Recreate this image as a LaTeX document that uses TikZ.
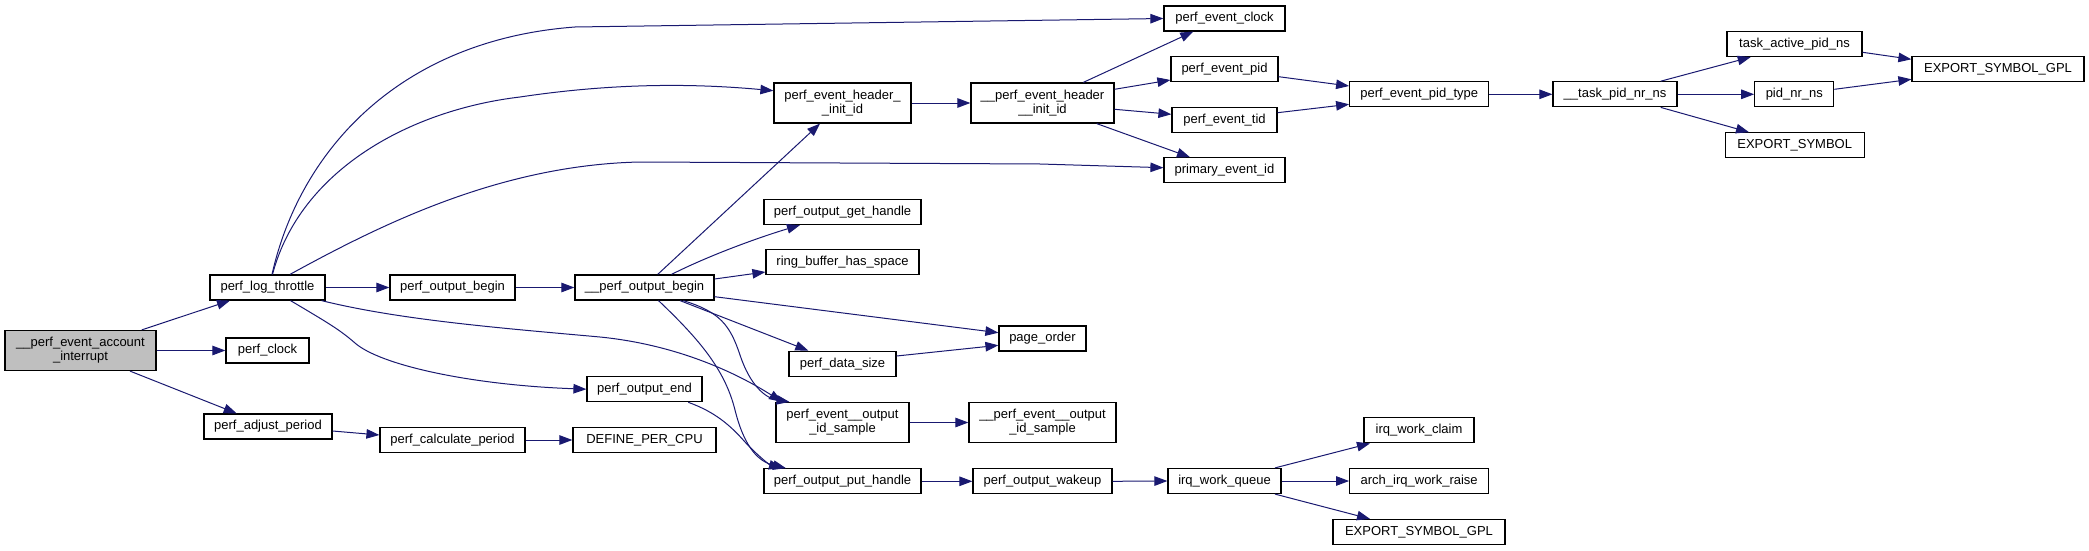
\documentclass[tikz,border=0pt]{standalone}
\usepackage{fontspec}
\setmainfont{Liberation Sans}
\usetikzlibrary{arrows.meta}
\definecolor{edgeblue}{HTML}{191970}
\definecolor{rootgrey}{HTML}{BFBFBF}
\begin{document}
\begin{tikzpicture}[x=1pt,y=-1pt,
 fn/.style={draw=black, line width=1.2pt, fill=white, inner sep=0pt, minimum height=25pt, font=\fontsize{13}{14}\selectfont, align=center},
 fn2/.style={fn, minimum height=40pt},
 root/.style={fn2, fill=rootgrey},
 call/.style={draw=edgeblue, line width=1pt, -{Triangle[length=13pt,width=9.5pt]}}
]
\useasboundingbox (0,0) rectangle (2089,551);
% column 1
\node[root, minimum width=151pt] (acc) at (80.5,350.5) {\_\_perf\_event\_account\\\_interrupt};
% column 2
\node[fn, minimum width=115pt] (plt) at (267.5,287.5) {perf\_log\_throttle};
\node[fn, minimum width=83pt] (pclk) at (267.5,350.5) {perf\_clock};
\node[fn, minimum width=128pt] (pap) at (268,426.5) {perf\_adjust\_period};
% column 3
\node[fn, minimum width=125pt] (pob) at (452.5,287.5) {perf\_output\_begin};
\node[fn, minimum width=145pt] (pcp) at (452.5,440) {perf\_calculate\_period};
% column 4
\node[fn, minimum width=139pt] (upob) at (644.5,287.5) {\_\_perf\_output\_begin};
\node[fn, minimum width=115pt] (poe) at (644.5,389.2) {perf\_output\_end};
\node[fn, minimum width=143pt] (dpc) at (644.5,440) {DEFINE\_PER\_CPU};
% column 5
\node[fn2, minimum width=137pt] (pehi) at (842.5,103) {perf\_event\_header\_\\\_init\_id};
\node[fn, minimum width=157pt] (pogh) at (842.5,212) {perf\_output\_get\_handle};
\node[fn, minimum width=153pt] (rbhs) at (842.5,262.3) {ring\_buffer\_has\_space};
\node[fn, minimum width=107pt] (pds) at (842.5,363.7) {perf\_data\_size};
\node[fn2, minimum width=133pt] (peois) at (842.5,422.5) {perf\_event\_\_output\\\_id\_sample};
\node[fn, minimum width=157pt] (poph) at (842.5,481.3) {perf\_output\_put\_handle};
% column 6
\node[fn2, minimum width=143pt] (upehi) at (1042.5,103) {\_\_perf\_event\_header\\\_\_init\_id};
\node[fn, minimum width=87pt] (po) at (1042.5,338.5) {page\_order};
\node[fn2, minimum width=147pt] (upeois) at (1042.5,422.5) {\_\_perf\_event\_\_output\\\_id\_sample};
\node[fn, minimum width=139pt] (pow) at (1042.5,481.3) {perf\_output\_wakeup};
% column 7
\node[fn, minimum width=121pt] (pec) at (1224.5,18.5) {perf\_event\_clock};
\node[fn, minimum width=107pt] (pepid) at (1224.5,69.2) {perf\_event\_pid};
\node[fn, minimum width=105pt] (petid) at (1224.5,119.8) {perf\_event\_tid};
\node[fn, minimum width=121pt] (pei) at (1224.5,170.3) {primary\_event\_id};
\node[fn, minimum width=113pt] (iwq) at (1224.5,481) {irq\_work\_queue};
% column 8
\node[fn, minimum width=139pt] (pept) at (1419.2,94.3) {perf\_event\_pid\_type};
\node[fn, minimum width=110pt] (iwc) at (1419,430.3) {irq\_work\_claim};
\node[fn, minimum width=139pt] (airq) at (1419.2,481) {arch\_irq\_work\_raise};
\node[fn, minimum width=172pt] (esg2) at (1419,532) {EXPORT\_SYMBOL\_GPL};
% column 9
\node[fn, minimum width=124pt] (tpnn) at (1615,94.3) {\_\_task\_pid\_nr\_ns};
% column 10
\node[fn, minimum width=135pt] (tapn) at (1794.5,44) {task\_active\_pid\_ns};
\node[fn, minimum width=79pt] (pnn) at (1794.3,94.3) {pid\_nr\_ns};
\node[fn, minimum width=139pt] (es) at (1794.7,145.3) {EXPORT\_SYMBOL};
% column 11
\node[fn, minimum width=172pt] (esg1) at (1998,69.2) {EXPORT\_SYMBOL\_GPL};

% edges
\draw[call] ([xshift=61.2pt]acc.north) -- ([xshift=-37.5pt]plt.south);
\draw[call] (acc.east) -- (pclk.west);
\draw[call] ([xshift=49.5pt]acc.south) -- ([xshift=-31.3pt]pap.north);
\draw[call] (plt.east) -- (pob.west);
\draw[call] ([xshift=4.5pt]plt.north) .. controls (300,150) and (400,40) .. (575,27) -- (pec.west);
\draw[call] ([xshift=5pt]plt.north) .. controls (300,170) and (410,110) .. (520,97) .. controls (620,82) and (700,84) .. ([yshift=12.3pt]pehi.west);
\draw[call] ([xshift=22.5pt]plt.north) .. controls (380,225) and (500,165) .. (640,162) -- (1040,164) -- ([yshift=2.6pt]pei.west);
\draw[call] ([xshift=54pt]plt.south) .. controls (400,320) and (500,328) .. (600,337) .. controls (680,345) and (740,375) .. ([xshift=-60.5pt]peois.north);
\draw[call] ([xshift=23pt]plt.south) .. controls (330,324) and (340,330) .. (355,343) .. controls (380,365) and (470,385) .. (poe.west);
\draw[call] (pob.east) -- (upob.west);
\draw[call] ([yshift=-4.5pt]pap.east) -- ([yshift=5pt]pcp.west);
\draw[call] (pcp.east) -- (dpc.west);
\draw[call] ([xshift=13.2pt]upob.north) -- ([xshift=-22.5pt]pehi.south);
\draw[call] ([xshift=27pt]upob.north) .. controls (710,255) and (760,237) .. ([xshift=-42.5pt]pogh.south);
\draw[call] ([yshift=8.5pt]upob.east) -- ([yshift=-9.7pt]rbhs.west);
\draw[call] ([yshift=-9.2pt]upob.east) -- ([yshift=5.8pt]po.west);
\draw[call] ([xshift=35.5pt]upob.south) -- ([xshift=-34.2pt]pds.north);
\draw[call] ([xshift=38.8pt]upob.south) .. controls (720,312) and (730,325) .. (740,355) .. controls (750,385) and (765,398) .. ([xshift=-53pt]peois.north);
\draw[call] ([xshift=14pt]upob.south) .. controls (700,340) and (725,370) .. (735,410) .. controls (745,450) and (760,462) .. ([xshift=-56.5pt]poph.north);
\draw[call] ([xshift=43.8pt]poe.south) .. controls (715,412) and (730,425) .. (745,442) .. controls (758,456) and (770,465) .. ([xshift=-60.5pt]poph.north);
\draw[call] ([yshift=7.7pt]pds.east) -- ([yshift=-6.8pt]po.west);
\draw[call] (peois.east) -- (upeois.west);
\draw[call] (poph.east) -- (pow.west);
\draw[call] (pow.east) -- (iwq.west);
\draw[call] ([xshift=50.5pt]iwq.north) -- ([xshift=-49pt]iwc.south);
\draw[call] (iwq.east) -- (airq.west);
\draw[call] ([xshift=50.5pt]iwq.south) -- ([xshift=-49pt]esg2.north);
\draw[call] (pehi.east) -- (upehi.west);
\draw[call] ([xshift=40.8pt]upehi.north) -- ([xshift=-31.2pt]pec.south);
\draw[call] ([yshift=13.7pt]upehi.east) -- ([yshift=-10.8pt]pepid.west);
\draw[call] ([yshift=-6.3pt]upehi.east) -- ([yshift=5.5pt]petid.west);
\draw[call] ([xshift=54.2pt]upehi.south) -- ([xshift=-34.5pt]pei.north);
\draw[call] ([yshift=-7.5pt]pepid.east) -- ([yshift=8.3pt]pept.west);
\draw[call] ([yshift=7.1pt]petid.east) -- ([yshift=-10pt]pept.west);
\draw[call] (pept.east) -- (tpnn.west);
\draw[call] ([xshift=45.7pt]tpnn.north) -- ([xshift=-43.8pt]tapn.south);
\draw[call] (tpnn.east) -- (pnn.west);
\draw[call] ([xshift=45.7pt]tpnn.south) -- ([xshift=-45.7pt]es.north);
\draw[call] ([yshift=-8.3pt]tapn.east) -- ([yshift=9.9pt]esg1.west);
\draw[call] ([yshift=5pt]pnn.east) -- ([yshift=-10.1pt]esg1.west);
\end{tikzpicture}
\end{document}
